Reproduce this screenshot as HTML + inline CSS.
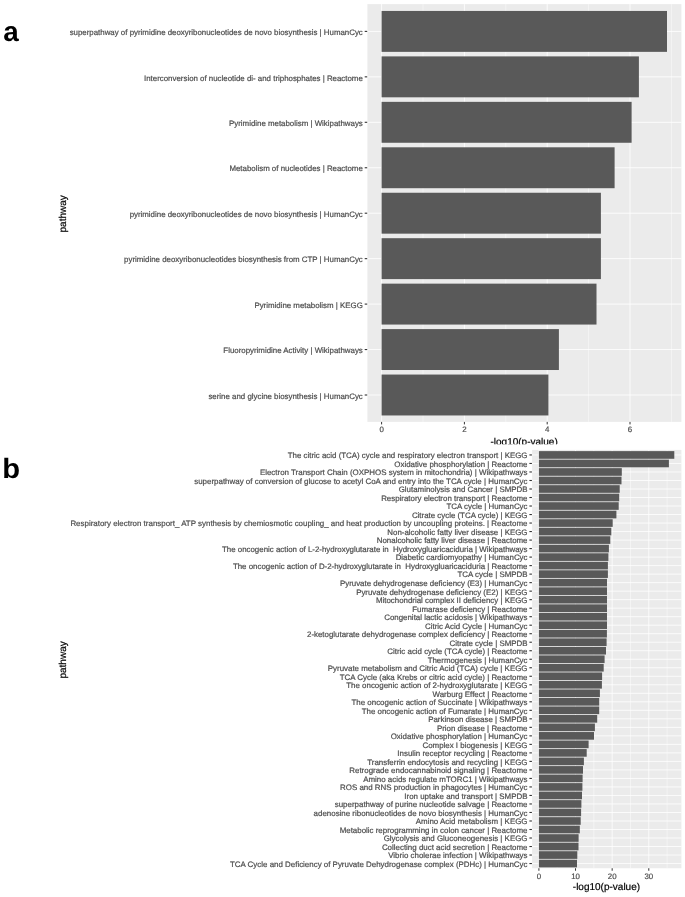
<!DOCTYPE html>
<html><head><meta charset="utf-8"><title>Pathway enrichment</title>
<style>
html,body{margin:0;padding:0;background:#fff;}
body{width:685px;height:897px;overflow:hidden;}
svg text{white-space:pre;}
svg{display:block;font-family:"Liberation Sans",Arial,Helvetica,sans-serif;text-rendering:geometricPrecision;}
</style></head><body>
<svg width="685" height="897" viewBox="0 0 685 897">
<rect width="685" height="897" fill="#fff"/>
<rect x="367.4" y="4.1" width="314.00" height="417.80" fill="#ebebeb"/>
<line x1="423.00" x2="423.00" y1="4.1" y2="421.9" stroke="#fff" stroke-width="0.45"/>
<line x1="505.80" x2="505.80" y1="4.1" y2="421.9" stroke="#fff" stroke-width="0.45"/>
<line x1="588.60" x2="588.60" y1="4.1" y2="421.9" stroke="#fff" stroke-width="0.45"/>
<line x1="671.40" x2="671.40" y1="4.1" y2="421.9" stroke="#fff" stroke-width="0.45"/>
<line x1="381.60" x2="381.60" y1="4.1" y2="421.9" stroke="#fff" stroke-width="0.85"/>
<line x1="464.40" x2="464.40" y1="4.1" y2="421.9" stroke="#fff" stroke-width="0.85"/>
<line x1="547.20" x2="547.20" y1="4.1" y2="421.9" stroke="#fff" stroke-width="0.85"/>
<line x1="630.00" x2="630.00" y1="4.1" y2="421.9" stroke="#fff" stroke-width="0.85"/>
<line x1="367.4" x2="681.4" y1="31.40" y2="31.40" stroke="#fff" stroke-width="0.85"/>
<line x1="367.4" x2="681.4" y1="76.85" y2="76.85" stroke="#fff" stroke-width="0.85"/>
<line x1="367.4" x2="681.4" y1="122.30" y2="122.30" stroke="#fff" stroke-width="0.85"/>
<line x1="367.4" x2="681.4" y1="167.75" y2="167.75" stroke="#fff" stroke-width="0.85"/>
<line x1="367.4" x2="681.4" y1="213.20" y2="213.20" stroke="#fff" stroke-width="0.85"/>
<line x1="367.4" x2="681.4" y1="258.65" y2="258.65" stroke="#fff" stroke-width="0.85"/>
<line x1="367.4" x2="681.4" y1="304.10" y2="304.10" stroke="#fff" stroke-width="0.85"/>
<line x1="367.4" x2="681.4" y1="349.55" y2="349.55" stroke="#fff" stroke-width="0.85"/>
<line x1="367.4" x2="681.4" y1="395.00" y2="395.00" stroke="#fff" stroke-width="0.85"/>
<rect x="381.60" y="10.95" width="285.40" height="40.91" fill="#595959"/>
<rect x="381.60" y="56.40" width="257.30" height="40.91" fill="#595959"/>
<rect x="381.60" y="101.85" width="250.00" height="40.91" fill="#595959"/>
<rect x="381.60" y="147.30" width="233.00" height="40.91" fill="#595959"/>
<rect x="381.60" y="192.75" width="219.30" height="40.91" fill="#595959"/>
<rect x="381.60" y="238.20" width="219.30" height="40.91" fill="#595959"/>
<rect x="381.60" y="283.65" width="214.90" height="40.91" fill="#595959"/>
<rect x="381.60" y="329.10" width="177.30" height="40.91" fill="#595959"/>
<rect x="381.60" y="374.55" width="166.80" height="40.91" fill="#595959"/>
<line x1="364.70" x2="367.20" y1="31.40" y2="31.40" stroke="#333333" stroke-width="1.1"/>
<text x="362.80" y="35.10" text-anchor="end" font-size="7.88" fill="#4d4d4d" stroke="#4d4d4d" stroke-width="0.2" xml:space="preserve">superpathway of pyrimidine deoxyribonucleotides de novo biosynthesis | HumanCyc</text>
<line x1="364.70" x2="367.20" y1="76.85" y2="76.85" stroke="#333333" stroke-width="1.1"/>
<text x="362.80" y="80.55" text-anchor="end" font-size="7.88" fill="#4d4d4d" stroke="#4d4d4d" stroke-width="0.2" xml:space="preserve">Interconversion of nucleotide di- and triphosphates | Reactome</text>
<line x1="364.70" x2="367.20" y1="122.30" y2="122.30" stroke="#333333" stroke-width="1.1"/>
<text x="362.80" y="126.00" text-anchor="end" font-size="7.88" fill="#4d4d4d" stroke="#4d4d4d" stroke-width="0.2" xml:space="preserve">Pyrimidine metabolism | Wikipathways</text>
<line x1="364.70" x2="367.20" y1="167.75" y2="167.75" stroke="#333333" stroke-width="1.1"/>
<text x="362.80" y="171.45" text-anchor="end" font-size="7.88" fill="#4d4d4d" stroke="#4d4d4d" stroke-width="0.2" xml:space="preserve">Metabolism of nucleotides | Reactome</text>
<line x1="364.70" x2="367.20" y1="213.20" y2="213.20" stroke="#333333" stroke-width="1.1"/>
<text x="362.80" y="216.90" text-anchor="end" font-size="7.88" fill="#4d4d4d" stroke="#4d4d4d" stroke-width="0.2" xml:space="preserve">pyrimidine deoxyribonucleotides de novo biosynthesis | HumanCyc</text>
<line x1="364.70" x2="367.20" y1="258.65" y2="258.65" stroke="#333333" stroke-width="1.1"/>
<text x="362.80" y="262.35" text-anchor="end" font-size="7.88" fill="#4d4d4d" stroke="#4d4d4d" stroke-width="0.2" xml:space="preserve">pyrimidine deoxyribonucleotides biosynthesis from CTP | HumanCyc</text>
<line x1="364.70" x2="367.20" y1="304.10" y2="304.10" stroke="#333333" stroke-width="1.1"/>
<text x="362.80" y="307.80" text-anchor="end" font-size="7.88" fill="#4d4d4d" stroke="#4d4d4d" stroke-width="0.2" xml:space="preserve">Pyrimidine metabolism | KEGG</text>
<line x1="364.70" x2="367.20" y1="349.55" y2="349.55" stroke="#333333" stroke-width="1.1"/>
<text x="362.80" y="353.25" text-anchor="end" font-size="7.88" fill="#4d4d4d" stroke="#4d4d4d" stroke-width="0.2" xml:space="preserve">Fluoropyrimidine Activity | Wikipathways</text>
<line x1="364.70" x2="367.20" y1="395.00" y2="395.00" stroke="#333333" stroke-width="1.1"/>
<text x="362.80" y="398.70" text-anchor="end" font-size="7.88" fill="#4d4d4d" stroke="#4d4d4d" stroke-width="0.2" xml:space="preserve">serine and glycine biosynthesis | HumanCyc</text>
<line x1="381.60" x2="381.60" y1="421.9" y2="424.4" stroke="#333333" stroke-width="1"/>
<text x="381.60" y="432.3" text-anchor="middle" font-size="7.88" fill="#4d4d4d" stroke="#4d4d4d" stroke-width="0.2">0</text>
<line x1="464.40" x2="464.40" y1="421.9" y2="424.4" stroke="#333333" stroke-width="1"/>
<text x="464.40" y="432.3" text-anchor="middle" font-size="7.88" fill="#4d4d4d" stroke="#4d4d4d" stroke-width="0.2">2</text>
<line x1="547.20" x2="547.20" y1="421.9" y2="424.4" stroke="#333333" stroke-width="1"/>
<text x="547.20" y="432.3" text-anchor="middle" font-size="7.88" fill="#4d4d4d" stroke="#4d4d4d" stroke-width="0.2">4</text>
<line x1="630.00" x2="630.00" y1="421.9" y2="424.4" stroke="#333333" stroke-width="1"/>
<text x="630.00" y="432.3" text-anchor="middle" font-size="7.88" fill="#4d4d4d" stroke="#4d4d4d" stroke-width="0.2">6</text>
<text x="524.10" y="445.1" text-anchor="middle" font-size="10" fill="#000" stroke="#000" stroke-width="0.2">-log10(p-value)</text>
<text transform="translate(66.0,213.85) rotate(-90)" text-anchor="middle" font-size="10" fill="#000" stroke="#000" stroke-width="0.2">pathway</text>
<rect x="0" y="444.3" width="685" height="5.5" fill="#fff"/>
<rect x="532.1" y="449.9" width="149.30" height="418.35" fill="#ebebeb"/>
<line x1="557.21" x2="557.21" y1="449.9" y2="868.25" stroke="#fff" stroke-width="0.45"/>
<line x1="593.85" x2="593.85" y1="449.9" y2="868.25" stroke="#fff" stroke-width="0.45"/>
<line x1="630.47" x2="630.47" y1="449.9" y2="868.25" stroke="#fff" stroke-width="0.45"/>
<line x1="667.11" x2="667.11" y1="449.9" y2="868.25" stroke="#fff" stroke-width="0.45"/>
<line x1="538.90" x2="538.90" y1="449.9" y2="868.25" stroke="#fff" stroke-width="0.8"/>
<line x1="575.53" x2="575.53" y1="449.9" y2="868.25" stroke="#fff" stroke-width="0.8"/>
<line x1="612.16" x2="612.16" y1="449.9" y2="868.25" stroke="#fff" stroke-width="0.8"/>
<line x1="648.79" x2="648.79" y1="449.9" y2="868.25" stroke="#fff" stroke-width="0.8"/>
<line x1="532.1" x2="681.4" y1="454.95" y2="454.95" stroke="#fff" stroke-width="0.8"/>
<line x1="532.1" x2="681.4" y1="463.46" y2="463.46" stroke="#fff" stroke-width="0.8"/>
<line x1="532.1" x2="681.4" y1="471.97" y2="471.97" stroke="#fff" stroke-width="0.8"/>
<line x1="532.1" x2="681.4" y1="480.49" y2="480.49" stroke="#fff" stroke-width="0.8"/>
<line x1="532.1" x2="681.4" y1="489.00" y2="489.00" stroke="#fff" stroke-width="0.8"/>
<line x1="532.1" x2="681.4" y1="497.51" y2="497.51" stroke="#fff" stroke-width="0.8"/>
<line x1="532.1" x2="681.4" y1="506.02" y2="506.02" stroke="#fff" stroke-width="0.8"/>
<line x1="532.1" x2="681.4" y1="514.54" y2="514.54" stroke="#fff" stroke-width="0.8"/>
<line x1="532.1" x2="681.4" y1="523.05" y2="523.05" stroke="#fff" stroke-width="0.8"/>
<line x1="532.1" x2="681.4" y1="531.56" y2="531.56" stroke="#fff" stroke-width="0.8"/>
<line x1="532.1" x2="681.4" y1="540.08" y2="540.08" stroke="#fff" stroke-width="0.8"/>
<line x1="532.1" x2="681.4" y1="548.59" y2="548.59" stroke="#fff" stroke-width="0.8"/>
<line x1="532.1" x2="681.4" y1="557.10" y2="557.10" stroke="#fff" stroke-width="0.8"/>
<line x1="532.1" x2="681.4" y1="565.61" y2="565.61" stroke="#fff" stroke-width="0.8"/>
<line x1="532.1" x2="681.4" y1="574.12" y2="574.12" stroke="#fff" stroke-width="0.8"/>
<line x1="532.1" x2="681.4" y1="582.64" y2="582.64" stroke="#fff" stroke-width="0.8"/>
<line x1="532.1" x2="681.4" y1="591.15" y2="591.15" stroke="#fff" stroke-width="0.8"/>
<line x1="532.1" x2="681.4" y1="599.66" y2="599.66" stroke="#fff" stroke-width="0.8"/>
<line x1="532.1" x2="681.4" y1="608.17" y2="608.17" stroke="#fff" stroke-width="0.8"/>
<line x1="532.1" x2="681.4" y1="616.69" y2="616.69" stroke="#fff" stroke-width="0.8"/>
<line x1="532.1" x2="681.4" y1="625.20" y2="625.20" stroke="#fff" stroke-width="0.8"/>
<line x1="532.1" x2="681.4" y1="633.71" y2="633.71" stroke="#fff" stroke-width="0.8"/>
<line x1="532.1" x2="681.4" y1="642.22" y2="642.22" stroke="#fff" stroke-width="0.8"/>
<line x1="532.1" x2="681.4" y1="650.74" y2="650.74" stroke="#fff" stroke-width="0.8"/>
<line x1="532.1" x2="681.4" y1="659.25" y2="659.25" stroke="#fff" stroke-width="0.8"/>
<line x1="532.1" x2="681.4" y1="667.76" y2="667.76" stroke="#fff" stroke-width="0.8"/>
<line x1="532.1" x2="681.4" y1="676.27" y2="676.27" stroke="#fff" stroke-width="0.8"/>
<line x1="532.1" x2="681.4" y1="684.79" y2="684.79" stroke="#fff" stroke-width="0.8"/>
<line x1="532.1" x2="681.4" y1="693.30" y2="693.30" stroke="#fff" stroke-width="0.8"/>
<line x1="532.1" x2="681.4" y1="701.81" y2="701.81" stroke="#fff" stroke-width="0.8"/>
<line x1="532.1" x2="681.4" y1="710.32" y2="710.32" stroke="#fff" stroke-width="0.8"/>
<line x1="532.1" x2="681.4" y1="718.84" y2="718.84" stroke="#fff" stroke-width="0.8"/>
<line x1="532.1" x2="681.4" y1="727.35" y2="727.35" stroke="#fff" stroke-width="0.8"/>
<line x1="532.1" x2="681.4" y1="735.86" y2="735.86" stroke="#fff" stroke-width="0.8"/>
<line x1="532.1" x2="681.4" y1="744.38" y2="744.38" stroke="#fff" stroke-width="0.8"/>
<line x1="532.1" x2="681.4" y1="752.89" y2="752.89" stroke="#fff" stroke-width="0.8"/>
<line x1="532.1" x2="681.4" y1="761.40" y2="761.40" stroke="#fff" stroke-width="0.8"/>
<line x1="532.1" x2="681.4" y1="769.91" y2="769.91" stroke="#fff" stroke-width="0.8"/>
<line x1="532.1" x2="681.4" y1="778.42" y2="778.42" stroke="#fff" stroke-width="0.8"/>
<line x1="532.1" x2="681.4" y1="786.94" y2="786.94" stroke="#fff" stroke-width="0.8"/>
<line x1="532.1" x2="681.4" y1="795.45" y2="795.45" stroke="#fff" stroke-width="0.8"/>
<line x1="532.1" x2="681.4" y1="803.96" y2="803.96" stroke="#fff" stroke-width="0.8"/>
<line x1="532.1" x2="681.4" y1="812.47" y2="812.47" stroke="#fff" stroke-width="0.8"/>
<line x1="532.1" x2="681.4" y1="820.99" y2="820.99" stroke="#fff" stroke-width="0.8"/>
<line x1="532.1" x2="681.4" y1="829.50" y2="829.50" stroke="#fff" stroke-width="0.8"/>
<line x1="532.1" x2="681.4" y1="838.01" y2="838.01" stroke="#fff" stroke-width="0.8"/>
<line x1="532.1" x2="681.4" y1="846.52" y2="846.52" stroke="#fff" stroke-width="0.8"/>
<line x1="532.1" x2="681.4" y1="855.04" y2="855.04" stroke="#fff" stroke-width="0.8"/>
<line x1="532.1" x2="681.4" y1="863.55" y2="863.55" stroke="#fff" stroke-width="0.8"/>
<rect x="538.90" y="451.12" width="135.40" height="7.66" fill="#595959"/>
<rect x="538.90" y="459.63" width="130.00" height="7.66" fill="#595959"/>
<rect x="538.90" y="468.14" width="82.90" height="7.66" fill="#595959"/>
<rect x="538.90" y="476.66" width="82.60" height="7.66" fill="#595959"/>
<rect x="538.90" y="485.17" width="80.80" height="7.66" fill="#595959"/>
<rect x="538.90" y="493.68" width="80.30" height="7.66" fill="#595959"/>
<rect x="538.90" y="502.19" width="79.80" height="7.66" fill="#595959"/>
<rect x="538.90" y="510.71" width="77.50" height="7.66" fill="#595959"/>
<rect x="538.90" y="519.22" width="73.80" height="7.66" fill="#595959"/>
<rect x="538.90" y="527.73" width="72.40" height="7.66" fill="#595959"/>
<rect x="538.90" y="536.24" width="71.40" height="7.66" fill="#595959"/>
<rect x="538.90" y="544.76" width="70.00" height="7.66" fill="#595959"/>
<rect x="538.90" y="553.27" width="69.50" height="7.66" fill="#595959"/>
<rect x="538.90" y="561.78" width="69.00" height="7.66" fill="#595959"/>
<rect x="538.90" y="570.29" width="69.00" height="7.66" fill="#595959"/>
<rect x="538.90" y="578.81" width="68.10" height="7.66" fill="#595959"/>
<rect x="538.90" y="587.32" width="68.10" height="7.66" fill="#595959"/>
<rect x="538.90" y="595.83" width="68.10" height="7.66" fill="#595959"/>
<rect x="538.90" y="604.34" width="68.10" height="7.66" fill="#595959"/>
<rect x="538.90" y="612.86" width="68.10" height="7.66" fill="#595959"/>
<rect x="538.90" y="621.37" width="68.10" height="7.66" fill="#595959"/>
<rect x="538.90" y="629.88" width="68.00" height="7.66" fill="#595959"/>
<rect x="538.90" y="638.39" width="67.70" height="7.66" fill="#595959"/>
<rect x="538.90" y="646.91" width="67.10" height="7.66" fill="#595959"/>
<rect x="538.90" y="655.42" width="65.70" height="7.66" fill="#595959"/>
<rect x="538.90" y="663.93" width="64.80" height="7.66" fill="#595959"/>
<rect x="538.90" y="672.44" width="63.20" height="7.66" fill="#595959"/>
<rect x="538.90" y="680.96" width="63.00" height="7.66" fill="#595959"/>
<rect x="538.90" y="689.47" width="61.00" height="7.66" fill="#595959"/>
<rect x="538.90" y="697.98" width="60.30" height="7.66" fill="#595959"/>
<rect x="538.90" y="706.49" width="60.30" height="7.66" fill="#595959"/>
<rect x="538.90" y="715.01" width="58.30" height="7.66" fill="#595959"/>
<rect x="538.90" y="723.52" width="56.00" height="7.66" fill="#595959"/>
<rect x="538.90" y="732.03" width="55.10" height="7.66" fill="#595959"/>
<rect x="538.90" y="740.54" width="49.70" height="7.66" fill="#595959"/>
<rect x="538.90" y="749.06" width="47.80" height="7.66" fill="#595959"/>
<rect x="538.90" y="757.57" width="45.00" height="7.66" fill="#595959"/>
<rect x="538.90" y="766.08" width="44.10" height="7.66" fill="#595959"/>
<rect x="538.90" y="774.59" width="43.70" height="7.66" fill="#595959"/>
<rect x="538.90" y="783.11" width="43.50" height="7.66" fill="#595959"/>
<rect x="538.90" y="791.62" width="43.10" height="7.66" fill="#595959"/>
<rect x="538.90" y="800.13" width="42.50" height="7.66" fill="#595959"/>
<rect x="538.90" y="808.64" width="42.20" height="7.66" fill="#595959"/>
<rect x="538.90" y="817.16" width="41.80" height="7.66" fill="#595959"/>
<rect x="538.90" y="825.67" width="40.90" height="7.66" fill="#595959"/>
<rect x="538.90" y="834.18" width="39.70" height="7.66" fill="#595959"/>
<rect x="538.90" y="842.69" width="39.60" height="7.66" fill="#595959"/>
<rect x="538.90" y="851.21" width="38.40" height="7.66" fill="#595959"/>
<rect x="538.90" y="859.72" width="38.10" height="7.66" fill="#595959"/>
<line x1="529.40" x2="531.90" y1="454.95" y2="454.95" stroke="#333333" stroke-width="1.1"/>
<text x="527.50" y="458.30" text-anchor="end" font-size="7.9" fill="#4d4d4d" stroke="#4d4d4d" stroke-width="0.2" xml:space="preserve">The citric acid (TCA) cycle and respiratory electron transport | KEGG</text>
<line x1="529.40" x2="531.90" y1="463.46" y2="463.46" stroke="#333333" stroke-width="1.1"/>
<text x="527.50" y="466.81" text-anchor="end" font-size="7.9" fill="#4d4d4d" stroke="#4d4d4d" stroke-width="0.2" xml:space="preserve">Oxidative phosphorylation | Reactome</text>
<line x1="529.40" x2="531.90" y1="471.97" y2="471.97" stroke="#333333" stroke-width="1.1"/>
<text x="527.50" y="475.32" text-anchor="end" font-size="7.952" fill="#4d4d4d" stroke="#4d4d4d" stroke-width="0.2" xml:space="preserve">Electron Transport Chain (OXPHOS system in mitochondria) | Wikipathways</text>
<line x1="529.40" x2="531.90" y1="480.49" y2="480.49" stroke="#333333" stroke-width="1.1"/>
<text x="527.50" y="483.84" text-anchor="end" font-size="7.942" fill="#4d4d4d" stroke="#4d4d4d" stroke-width="0.2" xml:space="preserve">superpathway of conversion of glucose to acetyl CoA and entry into the TCA cycle | HumanCyc</text>
<line x1="529.40" x2="531.90" y1="489.00" y2="489.00" stroke="#333333" stroke-width="1.1"/>
<text x="527.50" y="492.35" text-anchor="end" font-size="7.9" fill="#4d4d4d" stroke="#4d4d4d" stroke-width="0.2" xml:space="preserve">Glutaminolysis and Cancer | SMPDB</text>
<line x1="529.40" x2="531.90" y1="497.51" y2="497.51" stroke="#333333" stroke-width="1.1"/>
<text x="527.50" y="500.86" text-anchor="end" font-size="7.9" fill="#4d4d4d" stroke="#4d4d4d" stroke-width="0.2" xml:space="preserve">Respiratory electron transport | Reactome</text>
<line x1="529.40" x2="531.90" y1="506.02" y2="506.02" stroke="#333333" stroke-width="1.1"/>
<text x="527.50" y="509.38" text-anchor="end" font-size="7.9" fill="#4d4d4d" stroke="#4d4d4d" stroke-width="0.2" xml:space="preserve">TCA cycle | HumanCyc</text>
<line x1="529.40" x2="531.90" y1="514.54" y2="514.54" stroke="#333333" stroke-width="1.1"/>
<text x="527.50" y="517.89" text-anchor="end" font-size="7.9" fill="#4d4d4d" stroke="#4d4d4d" stroke-width="0.2" xml:space="preserve">Citrate cycle (TCA cycle) | KEGG</text>
<line x1="529.40" x2="531.90" y1="523.05" y2="523.05" stroke="#333333" stroke-width="1.1"/>
<text x="527.50" y="526.40" text-anchor="end" font-size="7.955" fill="#4d4d4d" stroke="#4d4d4d" stroke-width="0.2" xml:space="preserve">Respiratory electron transport_ ATP synthesis by chemiosmotic coupling_ and heat production by uncoupling proteins. | Reactome</text>
<line x1="529.40" x2="531.90" y1="531.56" y2="531.56" stroke="#333333" stroke-width="1.1"/>
<text x="527.50" y="534.91" text-anchor="end" font-size="7.9" fill="#4d4d4d" stroke="#4d4d4d" stroke-width="0.2" xml:space="preserve">Non-alcoholic fatty liver disease | KEGG</text>
<line x1="529.40" x2="531.90" y1="540.08" y2="540.08" stroke="#333333" stroke-width="1.1"/>
<text x="527.50" y="543.43" text-anchor="end" font-size="7.9" fill="#4d4d4d" stroke="#4d4d4d" stroke-width="0.2" xml:space="preserve">Nonalcoholic fatty liver disease | Reactome</text>
<line x1="529.40" x2="531.90" y1="548.59" y2="548.59" stroke="#333333" stroke-width="1.1"/>
<text x="527.50" y="551.94" text-anchor="end" font-size="7.9" fill="#4d4d4d" stroke="#4d4d4d" stroke-width="0.2" xml:space="preserve">The oncogenic action of L-2-hydroxyglutarate in  Hydroxygluaricaciduria | Wikipathways</text>
<line x1="529.40" x2="531.90" y1="557.10" y2="557.10" stroke="#333333" stroke-width="1.1"/>
<text x="527.50" y="560.45" text-anchor="end" font-size="7.9" fill="#4d4d4d" stroke="#4d4d4d" stroke-width="0.2" xml:space="preserve">Diabetic cardiomyopathy | HumanCyc</text>
<line x1="529.40" x2="531.90" y1="565.61" y2="565.61" stroke="#333333" stroke-width="1.1"/>
<text x="527.50" y="568.96" text-anchor="end" font-size="7.9" fill="#4d4d4d" stroke="#4d4d4d" stroke-width="0.2" xml:space="preserve">The oncogenic action of D-2-hydroxyglutarate in  Hydroxygluaricaciduria | Reactome</text>
<line x1="529.40" x2="531.90" y1="574.12" y2="574.12" stroke="#333333" stroke-width="1.1"/>
<text x="527.50" y="577.48" text-anchor="end" font-size="7.9" fill="#4d4d4d" stroke="#4d4d4d" stroke-width="0.2" xml:space="preserve">TCA cycle | SMPDB</text>
<line x1="529.40" x2="531.90" y1="582.64" y2="582.64" stroke="#333333" stroke-width="1.1"/>
<text x="527.50" y="585.99" text-anchor="end" font-size="7.9" fill="#4d4d4d" stroke="#4d4d4d" stroke-width="0.2" xml:space="preserve">Pyruvate dehydrogenase deficiency (E3) | HumanCyc</text>
<line x1="529.40" x2="531.90" y1="591.15" y2="591.15" stroke="#333333" stroke-width="1.1"/>
<text x="527.50" y="594.50" text-anchor="end" font-size="7.9" fill="#4d4d4d" stroke="#4d4d4d" stroke-width="0.2" xml:space="preserve">Pyruvate dehydrogenase deficiency (E2) | KEGG</text>
<line x1="529.40" x2="531.90" y1="599.66" y2="599.66" stroke="#333333" stroke-width="1.1"/>
<text x="527.50" y="603.01" text-anchor="end" font-size="7.9" fill="#4d4d4d" stroke="#4d4d4d" stroke-width="0.2" xml:space="preserve">Mitochondrial complex II deficiency | KEGG</text>
<line x1="529.40" x2="531.90" y1="608.17" y2="608.17" stroke="#333333" stroke-width="1.1"/>
<text x="527.50" y="611.52" text-anchor="end" font-size="7.9" fill="#4d4d4d" stroke="#4d4d4d" stroke-width="0.2" xml:space="preserve">Fumarase deficiency | Reactome</text>
<line x1="529.40" x2="531.90" y1="616.69" y2="616.69" stroke="#333333" stroke-width="1.1"/>
<text x="527.50" y="620.04" text-anchor="end" font-size="7.9" fill="#4d4d4d" stroke="#4d4d4d" stroke-width="0.2" xml:space="preserve">Congenital lactic acidosis | Wikipathways</text>
<line x1="529.40" x2="531.90" y1="625.20" y2="625.20" stroke="#333333" stroke-width="1.1"/>
<text x="527.50" y="628.55" text-anchor="end" font-size="7.9" fill="#4d4d4d" stroke="#4d4d4d" stroke-width="0.2" xml:space="preserve">Citric Acid Cycle | HumanCyc</text>
<line x1="529.40" x2="531.90" y1="633.71" y2="633.71" stroke="#333333" stroke-width="1.1"/>
<text x="527.50" y="637.06" text-anchor="end" font-size="7.9" fill="#4d4d4d" stroke="#4d4d4d" stroke-width="0.2" xml:space="preserve">2-ketoglutarate dehydrogenase complex deficiency | Reactome</text>
<line x1="529.40" x2="531.90" y1="642.22" y2="642.22" stroke="#333333" stroke-width="1.1"/>
<text x="527.50" y="645.57" text-anchor="end" font-size="7.9" fill="#4d4d4d" stroke="#4d4d4d" stroke-width="0.2" xml:space="preserve">Citrate cycle | SMPDB</text>
<line x1="529.40" x2="531.90" y1="650.74" y2="650.74" stroke="#333333" stroke-width="1.1"/>
<text x="527.50" y="654.09" text-anchor="end" font-size="7.9" fill="#4d4d4d" stroke="#4d4d4d" stroke-width="0.2" xml:space="preserve">Citric acid cycle (TCA cycle) | Reactome</text>
<line x1="529.40" x2="531.90" y1="659.25" y2="659.25" stroke="#333333" stroke-width="1.1"/>
<text x="527.50" y="662.60" text-anchor="end" font-size="7.9" fill="#4d4d4d" stroke="#4d4d4d" stroke-width="0.2" xml:space="preserve">Thermogenesis | HumanCyc</text>
<line x1="529.40" x2="531.90" y1="667.76" y2="667.76" stroke="#333333" stroke-width="1.1"/>
<text x="527.50" y="671.11" text-anchor="end" font-size="7.935" fill="#4d4d4d" stroke="#4d4d4d" stroke-width="0.2" xml:space="preserve">Pyruvate metabolism and Citric Acid (TCA) cycle | KEGG</text>
<line x1="529.40" x2="531.90" y1="676.27" y2="676.27" stroke="#333333" stroke-width="1.1"/>
<text x="527.50" y="679.62" text-anchor="end" font-size="7.935" fill="#4d4d4d" stroke="#4d4d4d" stroke-width="0.2" xml:space="preserve">TCA Cycle (aka Krebs or citric acid cycle) | Reactome</text>
<line x1="529.40" x2="531.90" y1="684.79" y2="684.79" stroke="#333333" stroke-width="1.1"/>
<text x="527.50" y="688.14" text-anchor="end" font-size="7.935" fill="#4d4d4d" stroke="#4d4d4d" stroke-width="0.2" xml:space="preserve">The oncogenic action of 2-hydroxyglutarate | KEGG</text>
<line x1="529.40" x2="531.90" y1="693.30" y2="693.30" stroke="#333333" stroke-width="1.1"/>
<text x="527.50" y="696.65" text-anchor="end" font-size="7.935" fill="#4d4d4d" stroke="#4d4d4d" stroke-width="0.2" xml:space="preserve">Warburg Effect | Reactome</text>
<line x1="529.40" x2="531.90" y1="701.81" y2="701.81" stroke="#333333" stroke-width="1.1"/>
<text x="527.50" y="705.16" text-anchor="end" font-size="7.935" fill="#4d4d4d" stroke="#4d4d4d" stroke-width="0.2" xml:space="preserve">The oncogenic action of Succinate | Wikipathways</text>
<line x1="529.40" x2="531.90" y1="710.32" y2="710.32" stroke="#333333" stroke-width="1.1"/>
<text x="527.50" y="713.67" text-anchor="end" font-size="7.935" fill="#4d4d4d" stroke="#4d4d4d" stroke-width="0.2" xml:space="preserve">The oncogenic action of Fumarate | HumanCyc</text>
<line x1="529.40" x2="531.90" y1="718.84" y2="718.84" stroke="#333333" stroke-width="1.1"/>
<text x="527.50" y="722.19" text-anchor="end" font-size="7.935" fill="#4d4d4d" stroke="#4d4d4d" stroke-width="0.2" xml:space="preserve">Parkinson disease | SMPDB</text>
<line x1="529.40" x2="531.90" y1="727.35" y2="727.35" stroke="#333333" stroke-width="1.1"/>
<text x="527.50" y="730.70" text-anchor="end" font-size="7.935" fill="#4d4d4d" stroke="#4d4d4d" stroke-width="0.2" xml:space="preserve">Prion disease | Reactome</text>
<line x1="529.40" x2="531.90" y1="735.86" y2="735.86" stroke="#333333" stroke-width="1.1"/>
<text x="527.50" y="739.21" text-anchor="end" font-size="7.935" fill="#4d4d4d" stroke="#4d4d4d" stroke-width="0.2" xml:space="preserve">Oxidative phosphorylation | HumanCyc</text>
<line x1="529.40" x2="531.90" y1="744.38" y2="744.38" stroke="#333333" stroke-width="1.1"/>
<text x="527.50" y="747.73" text-anchor="end" font-size="7.935" fill="#4d4d4d" stroke="#4d4d4d" stroke-width="0.2" xml:space="preserve">Complex I biogenesis | KEGG</text>
<line x1="529.40" x2="531.90" y1="752.89" y2="752.89" stroke="#333333" stroke-width="1.1"/>
<text x="527.50" y="756.24" text-anchor="end" font-size="7.935" fill="#4d4d4d" stroke="#4d4d4d" stroke-width="0.2" xml:space="preserve">Insulin receptor recycling | Reactome</text>
<line x1="529.40" x2="531.90" y1="761.40" y2="761.40" stroke="#333333" stroke-width="1.1"/>
<text x="527.50" y="764.75" text-anchor="end" font-size="7.935" fill="#4d4d4d" stroke="#4d4d4d" stroke-width="0.2" xml:space="preserve">Transferrin endocytosis and recycling | KEGG</text>
<line x1="529.40" x2="531.90" y1="769.91" y2="769.91" stroke="#333333" stroke-width="1.1"/>
<text x="527.50" y="773.26" text-anchor="end" font-size="7.935" fill="#4d4d4d" stroke="#4d4d4d" stroke-width="0.2" xml:space="preserve">Retrograde endocannabinoid signaling | Reactome</text>
<line x1="529.40" x2="531.90" y1="778.42" y2="778.42" stroke="#333333" stroke-width="1.1"/>
<text x="527.50" y="781.77" text-anchor="end" font-size="7.935" fill="#4d4d4d" stroke="#4d4d4d" stroke-width="0.2" xml:space="preserve">Amino acids regulate mTORC1 | Wikipathways</text>
<line x1="529.40" x2="531.90" y1="786.94" y2="786.94" stroke="#333333" stroke-width="1.1"/>
<text x="527.50" y="790.29" text-anchor="end" font-size="7.935" fill="#4d4d4d" stroke="#4d4d4d" stroke-width="0.2" xml:space="preserve">ROS and RNS production in phagocytes | HumanCyc</text>
<line x1="529.40" x2="531.90" y1="795.45" y2="795.45" stroke="#333333" stroke-width="1.1"/>
<text x="527.50" y="798.80" text-anchor="end" font-size="7.935" fill="#4d4d4d" stroke="#4d4d4d" stroke-width="0.2" xml:space="preserve">Iron uptake and transport | SMPDB</text>
<line x1="529.40" x2="531.90" y1="803.96" y2="803.96" stroke="#333333" stroke-width="1.1"/>
<text x="527.50" y="807.31" text-anchor="end" font-size="7.935" fill="#4d4d4d" stroke="#4d4d4d" stroke-width="0.2" xml:space="preserve">superpathway of purine nucleotide salvage | Reactome</text>
<line x1="529.40" x2="531.90" y1="812.47" y2="812.47" stroke="#333333" stroke-width="1.1"/>
<text x="527.50" y="815.82" text-anchor="end" font-size="7.935" fill="#4d4d4d" stroke="#4d4d4d" stroke-width="0.2" xml:space="preserve">adenosine ribonucleotides de novo biosynthesis | HumanCyc</text>
<line x1="529.40" x2="531.90" y1="820.99" y2="820.99" stroke="#333333" stroke-width="1.1"/>
<text x="527.50" y="824.34" text-anchor="end" font-size="7.935" fill="#4d4d4d" stroke="#4d4d4d" stroke-width="0.2" xml:space="preserve">Amino Acid metabolism | KEGG</text>
<line x1="529.40" x2="531.90" y1="829.50" y2="829.50" stroke="#333333" stroke-width="1.1"/>
<text x="527.50" y="832.85" text-anchor="end" font-size="7.935" fill="#4d4d4d" stroke="#4d4d4d" stroke-width="0.2" xml:space="preserve">Metabolic reprogramming in colon cancer | Reactome</text>
<line x1="529.40" x2="531.90" y1="838.01" y2="838.01" stroke="#333333" stroke-width="1.1"/>
<text x="527.50" y="841.36" text-anchor="end" font-size="7.935" fill="#4d4d4d" stroke="#4d4d4d" stroke-width="0.2" xml:space="preserve">Glycolysis and Gluconeogenesis | KEGG</text>
<line x1="529.40" x2="531.90" y1="846.52" y2="846.52" stroke="#333333" stroke-width="1.1"/>
<text x="527.50" y="849.88" text-anchor="end" font-size="7.935" fill="#4d4d4d" stroke="#4d4d4d" stroke-width="0.2" xml:space="preserve">Collecting duct acid secretion | Reactome</text>
<line x1="529.40" x2="531.90" y1="855.04" y2="855.04" stroke="#333333" stroke-width="1.1"/>
<text x="527.50" y="858.39" text-anchor="end" font-size="7.935" fill="#4d4d4d" stroke="#4d4d4d" stroke-width="0.2" xml:space="preserve">Vibrio cholerae infection | Wikipathways</text>
<line x1="529.40" x2="531.90" y1="863.55" y2="863.55" stroke="#333333" stroke-width="1.1"/>
<text x="527.50" y="866.90" text-anchor="end" font-size="7.935" fill="#4d4d4d" stroke="#4d4d4d" stroke-width="0.2" xml:space="preserve">TCA Cycle and Deficiency of Pyruvate Dehydrogenase complex (PDHc) | HumanCyc</text>
<line x1="538.90" x2="538.90" y1="868.25" y2="870.75" stroke="#333333" stroke-width="1"/>
<text x="538.90" y="879.3" text-anchor="middle" font-size="7.9" fill="#4d4d4d" stroke="#4d4d4d" stroke-width="0.2">0</text>
<line x1="575.53" x2="575.53" y1="868.25" y2="870.75" stroke="#333333" stroke-width="1"/>
<text x="575.53" y="879.3" text-anchor="middle" font-size="7.9" fill="#4d4d4d" stroke="#4d4d4d" stroke-width="0.2">10</text>
<line x1="612.16" x2="612.16" y1="868.25" y2="870.75" stroke="#333333" stroke-width="1"/>
<text x="612.16" y="879.3" text-anchor="middle" font-size="7.9" fill="#4d4d4d" stroke="#4d4d4d" stroke-width="0.2">20</text>
<line x1="648.79" x2="648.79" y1="868.25" y2="870.75" stroke="#333333" stroke-width="1"/>
<text x="648.79" y="879.3" text-anchor="middle" font-size="7.9" fill="#4d4d4d" stroke="#4d4d4d" stroke-width="0.2">30</text>
<text x="606.45" y="890.4" text-anchor="middle" font-size="10" fill="#000" stroke="#000" stroke-width="0.2">-log10(p-value)</text>
<text transform="translate(66.0,659.93) rotate(-90)" text-anchor="middle" font-size="10" fill="#000" stroke="#000" stroke-width="0.2">pathway</text>
<text x="3.3" y="41.3" font-size="27.8" font-weight="bold" fill="#000">a</text>
<text transform="translate(2.26,478) scale(1.05,1)" font-size="27.8" font-weight="bold" fill="#000">b</text>
</svg>
</body></html>
